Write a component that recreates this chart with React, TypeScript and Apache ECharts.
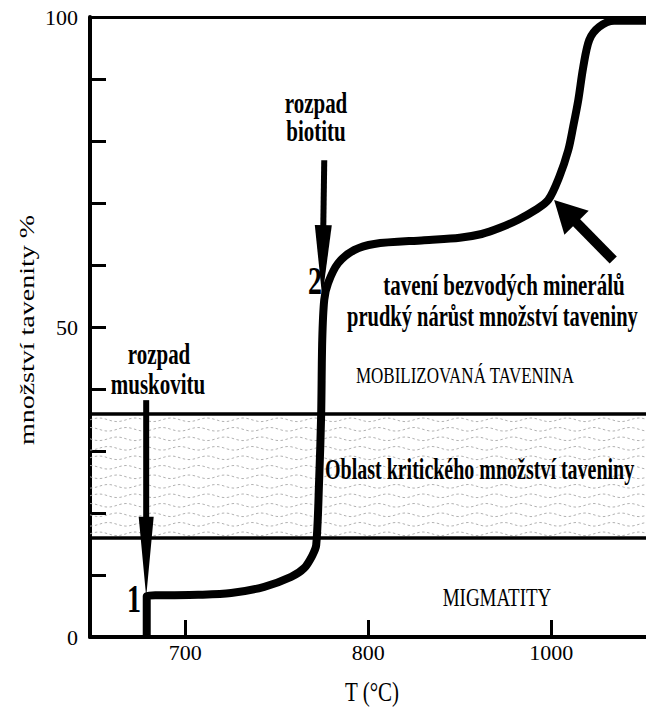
import React, { useEffect, useRef } from "react";
import * as echarts from "echarts";

// ---- data ----
const temperatureTicks = [700, 800, 900];
const temperatureTickLabels = ["700", "800", "1000"];
const meltTickLabels = [0, 50, 100];

const curveT = [679, 679, 707.1, 725.1, 743.2, 757.9, 765.0, 769.4, 771.6, 773.2, 774.3, 774.9, 776.0, 778.1, 783.6, 792.3, 803.3, 830.6, 850.0, 862.0, 872.0, 882.0, 891.0, 898.4, 904.4, 909.3, 912.0, 914.8, 917.5, 920.8, 926.2, 934.4, 960];
const curveMelt = [0, 6.6, 6.8, 7.1, 8.1, 9.7, 11.1, 13.1, 14.8, 25.3, 35.8, 47.9, 54.4, 57.1, 60.3, 62.4, 63.4, 64.0, 64.4, 65.0, 66.0, 67.3, 68.8, 70.5, 74.2, 78.5, 82.3, 86.6, 91.9, 96.3, 98.4, 99.4, 99.4];

const criticalZone = [16, 36];

const arrowTail = [[678.7, 38.2], [776.0, 76.9], [933.9, 60.8]];
const arrowTip = [[678.7, 6.5], [774.9, 54.8], [901.6, 70.5]];

const xMin = 648;
const xMax = 960;

const FONT = '"Liberation Serif", "Times New Roman", serif';

const arrowShape = [
  { shaft: 6, headLen: 80, headW: 15 },
  { shaft: 6, headLen: 72, headW: 17 },
  { shaft: 10, headLen: 32, headW: 34 },
];

function txt(text: string, x: number, y: number, size: number, bold: boolean, align: string, sy: number, extra: any = {}) {
  return {
    type: "text",
    x,
    y,
    scaleY: sy,
    z: 100,
    style: {
      text,
      fontSize: size,
      fontWeight: bold ? "bold" : "normal",
      fontFamily: FONT,
      fill: "#000",
      align,
      verticalAlign: "middle",
    },
    ...extra,
  };
}

export default function App() {
  const ref = useRef<HTMLDivElement>(null);
  useEffect(() => {
    document.body.style.margin = "0";
    const chart = echarts.init(ref.current!, null, { renderer: "svg" });
    const curve = curveT.map((t, i) => [t, curveMelt[i]]);
    const arrows = arrowTail.map((a, i) => [a[0], a[1], arrowTip[i][0], arrowTip[i][1]]);

    chart.setOption({
      animation: false,
      grid: { left: 90, right: -15, top: 17, bottom: 72, outerBoundsMode: "none" },
      xAxis: [
        {
          type: "value",
          min: xMin,
          max: xMax,
          position: "bottom",
          axisLine: { show: true, onZero: false, lineStyle: { color: "#000", width: 4 } },
          axisTick: { show: true, inside: true, length: 17, customValues: temperatureTicks, lineStyle: { color: "#000", width: 3 } },
          axisLabel: {
            show: true,
            customValues: temperatureTicks,
            formatter: (v: number) => {
              const k = temperatureTicks.indexOf(v);
              return k >= 0 ? temperatureTickLabels[k] : "";
            },
            color: "#000",
            fontSize: 22,
            fontFamily: FONT,
            margin: 4,
          },
          splitLine: { show: false },
        },
        {
          type: "value",
          min: xMin,
          max: xMax,
          position: "top",
          axisLine: { show: true, onZero: false, lineStyle: { color: "#000", width: 3 } },
          axisTick: { show: false },
          axisLabel: { show: false },
          splitLine: { show: false },
        },
      ],
      yAxis: {
        type: "value",
        min: 0,
        max: 100,
        interval: 10,
        axisLine: { show: true, onZero: false, lineStyle: { color: "#000", width: 4 } },
        axisTick: { show: true, inside: true, length: 16, lineStyle: { color: "#000", width: 3 } },
        axisLabel: {
          formatter: (v: number) => (meltTickLabels.indexOf(v) >= 0 ? String(v) : ""),
          color: "#000",
          fontSize: 22,
          fontFamily: FONT,
          margin: 12,
        },
        splitLine: { show: false },
      },
      series: [
        {
          type: "custom",
          silent: true,
          z: 1,
          data: [[xMin, criticalZone[0]]],
          renderItem: (params: any, api: any) => {
            const tl = api.coord([xMin, criticalZone[1]]);
            const br = api.coord([xMax, criticalZone[0]]);
            const children: any[] = [];
            const gap = 9.5;
            let row = 0;
            for (let y = tl[1] + 6; y < br[1] - 3; y += gap, row++) {
              const pts: number[][] = [];
              for (let x = tl[0]; x <= br[0]; x += 3) {
                pts.push([x, y + 1.8 * Math.sin(((x + row * 9) / 36) * 2 * Math.PI)]);
              }
              children.push({
                type: "polyline",
                shape: { points: pts },
                style: { stroke: "#a8a8a8", lineWidth: 0.9, lineDash: [2.5, 2.5], fill: null },
              });
            }
            return { type: "group", children };
          },
        },
        {
          type: "line",
          data: curve,
          showSymbol: false,
          smooth: 0.3,
          z: 5,
          lineStyle: { color: "#000", width: 8, join: "round" },
          markLine: {
            silent: true,
            symbol: "none",
            label: { show: false },
            lineStyle: { color: "#000", width: 3.5, type: "solid" },
            data: criticalZone.map((v) => ({ yAxis: v })),
          },
        },
        {
          type: "custom",
          silent: true,
          z: 6,
          data: arrows,
          encode: { x: [0, 2], y: [1, 3] },
          renderItem: (params: any, api: any) => {
            const i = params.dataIndex;
            const a = api.coord([api.value(0), api.value(1)]);
            const b = api.coord([api.value(2), api.value(3)]);
            const s = arrowShape[i];
            const dx = b[0] - a[0];
            const dy = b[1] - a[1];
            const len = Math.hypot(dx, dy);
            const ux = dx / len;
            const uy = dy / len;
            const nx = -uy;
            const ny = ux;
            const bx = b[0] - ux * s.headLen;
            const by = b[1] - uy * s.headLen;
            const hs = s.shaft / 2;
            const hh = s.headW / 2;
            return {
              type: "group",
              children: [
                {
                  type: "polygon",
                  shape: {
                    points: [
                      [a[0] + nx * hs, a[1] + ny * hs],
                      [bx + nx * hs + ux * 2, by + ny * hs + uy * 2],
                      [bx - nx * hs + ux * 2, by - ny * hs + uy * 2],
                      [a[0] - nx * hs, a[1] - ny * hs],
                    ],
                  },
                  style: { fill: "#000" },
                },
                {
                  type: "polygon",
                  shape: { points: [[bx + nx * hh, by + ny * hh], [b[0], b[1]], [bx - nx * hh, by - ny * hh]] },
                  style: { fill: "#000" },
                },
              ],
            };
          },
        },
      ],
      graphic: [
        txt("rozpad", 159, 354, 21, true, "center", 1.45),
        txt("muskovitu", 158, 384, 21, true, "center", 1.45),
        txt("rozpad", 316, 103, 21, true, "center", 1.45),
        txt("biotitu", 316, 131, 21, true, "center", 1.45),
        txt("1", 134, 599, 28, true, "center", 1.45),
        txt("2", 315, 281, 28, true, "center", 1.45),
        txt("tavení bezvodých minerálů", 504, 285, 21, true, "center", 1.45),
        txt("prudký nárůst množství taveniny", 347, 316, 20.5, true, "left", 1.45),
        txt("Oblast kritického množství taveniny", 325, 469, 20, true, "left", 1.45),
        txt("MOBILIZOVANÁ TAVENINA", 465, 375, 17, false, "center", 1.4),
        txt("MIGMATITY", 497, 597, 19, false, "center", 1.35),
        txt("T (°C)", 372, 691, 21, false, "center", 1.35),
        {
          type: "text",
          x: 27,
          y: 330,
          rotation: Math.PI / 2,
          scaleX: 1.4,
          z: 100,
          style: {
            text: "množství tavenity %",
            fontSize: 20,
            fontFamily: FONT,
            fill: "#000",
            align: "center",
            verticalAlign: "middle",
          },
        },
      ],
    });
    return () => chart.dispose();
  }, []);
  return <div ref={ref} style={{ width: 646, height: 709 }} />;
}
